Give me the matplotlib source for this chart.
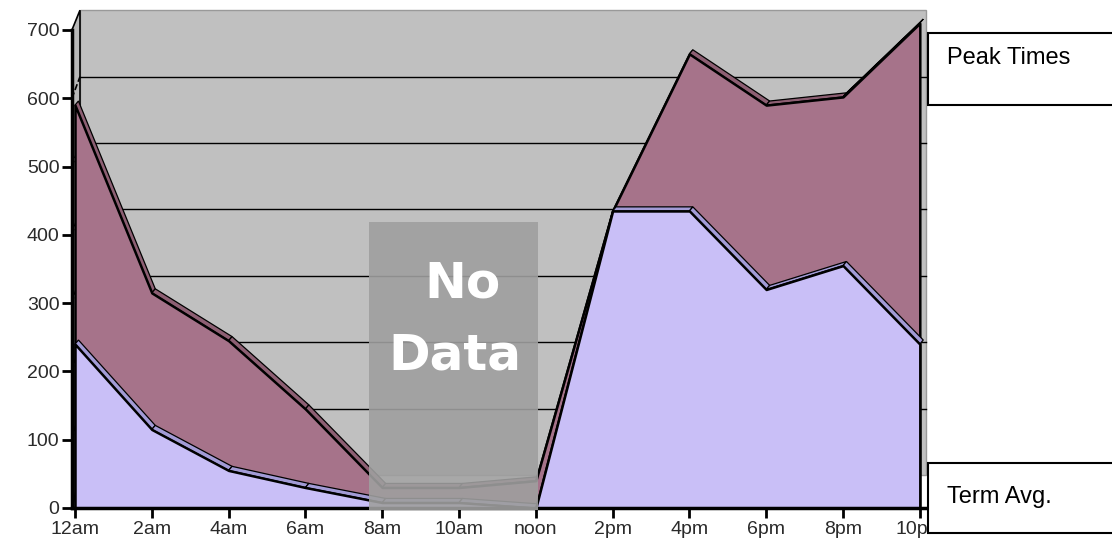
import numpy as np
import matplotlib.pyplot as plt
from matplotlib.patches import Polygon, Rectangle

hours = ["12am", "2am", "4am", "6am", "8am", "10am", "noon",
         "2pm", "4pm", "6pm", "8pm", "10pm"]
term_avg = [240, 115, 55, 30, 8, 8, 0, 435, 435, 320, 355, 240]
peak_times = [590, 315, 245, 145, 30, 30, 40, 435, 665, 590, 602, 710]

mauve = "#a6738a"
mauve_top = "#8d5f73"
lav = "#c9bff7"
lav_top = "#a29bd6"
wall = "#c0c0c0"

x = np.arange(len(hours))

fig = plt.figure(figsize=(11.12, 5.48), dpi=100)
ax = fig.add_axes([62 / 1112, 1 - 512 / 548, (935 - 62) / 1112, (512 - 5) / 548])
px_x = 76.8
px_y = 478 / 700
ax.set_xlim((62 - 75) / px_x, (935 - 75) / px_x)
ax.set_ylim((508 - 512) / px_y, (508 - 5) / px_y)

# back wall (perspective: back scale slightly shorter)
x0, x1 = -0.04, 11.08
bx0 = 0.065
b_lo, b_hi = 48, 729
ax.add_patch(Rectangle((bx0, b_lo), x1 - bx0, b_hi - b_lo, facecolor=wall,
                       edgecolor="#999999", lw=1, zorder=0))
ax.add_patch(Polygon([(x0, 0), (bx0, b_lo), (bx0, b_hi), (x0, 700)],
                     closed=True, facecolor="#b8b8b8", edgecolor="black",
                     lw=1.2, zorder=0))
for k in range(1, 7):
    yb = b_lo + k * (b_hi - b_lo) / 7
    ax.plot([bx0, x1], [yb, yb], color="black", lw=1, zorder=1)
    ax.plot([x0, bx0], [k * 100, yb], color="black", lw=1.2, ls="--", zorder=1)


def area3d(xv, yv, face, top, z):
    ddx, ddy = 0.045, 6
    for i in range(len(xv) - 1):
        poly = [(xv[i], yv[i]), (xv[i + 1], yv[i + 1]),
                (xv[i + 1] + ddx, yv[i + 1] + ddy), (xv[i] + ddx, yv[i] + ddy)]
        ax.add_patch(Polygon(poly, closed=True, facecolor=top,
                             edgecolor="black", lw=0.9, zorder=z))
    ax.fill_between(xv, 0, yv, facecolor=face, edgecolor="black",
                    lw=1.8, zorder=z + 0.5)


area3d(x, peak_times, mauve, mauve_top, 2)
area3d(x, term_avg, lav, lav_top, 3)

# no data box
ax.add_patch(Rectangle(((369 - 75) / px_x, -3), (538 - 369) / px_x, 422,
                       facecolor="#9f9f9f", alpha=0.9, edgecolor="none", zorder=5))
ax.text(5.04, 329, "No", color="white", fontsize=36, fontweight="bold",
        family="DejaVu Sans", ha="center", va="center", zorder=6)
ax.text(4.95, 224, "Data", color="white", fontsize=36, fontweight="bold",
        family="DejaVu Sans", ha="center", va="center", zorder=6)

# axes
for s in ["top", "right"]:
    ax.spines[s].set_visible(False)
ax.spines["left"].set_position(("data", x0))
ax.spines["left"].set_bounds(0, 700)
ax.spines["bottom"].set_position(("data", 0))
ax.spines["bottom"].set_bounds(x0, 11.07)
for s in ["left", "bottom"]:
    ax.spines[s].set_linewidth(2.5)
    ax.spines[s].set_zorder(4)
ax.set_yticks(range(0, 701, 100))
ax.set_xticks(x)
ax.set_xticklabels(hours)
ax.tick_params(length=7, width=2, labelsize=14, labelcolor="#2a2a2a",
               pad=2)
for lab in ax.get_xticklabels() + ax.get_yticklabels():
    lab.set_family("Liberation Sans")
ax.patch.set_visible(False)

# legend boxes
for top_px, bot_px, txt_px, label in [(33, 105, 58, "Peak Times"),
                                      (463, 533, 497, "Term Avg.")]:
    fig.add_artist(Rectangle((928 / 1112, 1 - bot_px / 548), 300 / 1112,
                             (bot_px - top_px) / 548, transform=fig.transFigure,
                             facecolor="white", edgecolor="black", lw=1.5,
                             zorder=10))
    fig.text(947 / 1112, 1 - txt_px / 548, label, fontsize=17,
             family="Liberation Sans", va="center", ha="left", zorder=11)

fig.savefig("out.png", dpi=100)
